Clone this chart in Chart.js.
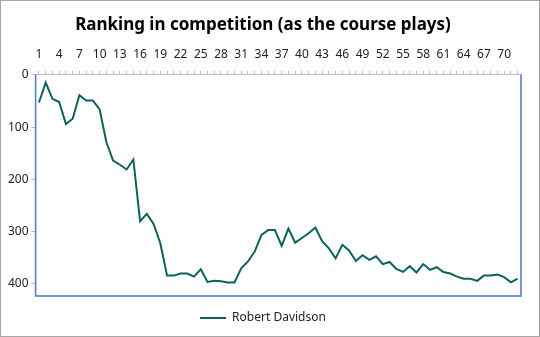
<!DOCTYPE html>
<html>
<head>
<meta charset="utf-8">
<script src="https://cdn.jsdelivr.net/npm/chart.js@4"></script>
<style>
  body { margin: 0; background: #fff; }
  #wrap { width: 540px; height: 337px; box-sizing: border-box; border: 1px solid #a6a6a6; }
</style>
</head>
<body>
<div id="wrap"><canvas id="chart_ranking" width="538" height="335"></canvas></div>
<script>
// holes as the course plays
var holes = [];
for (var i = 1; i <= 72; i++) holes.push(i);

// ranking after each hole
var ranking = [53, 15, 46, 52, 94, 84, 39, 49, 49, 66,
               129, 164, 172, 181, 162, 280, 266, 285, 322, 384,
               384, 380, 380, 386, 372, 396, 394, 395, 397, 397,
               370, 357, 338, 306, 297, 297, 327, 294, 321, 312,
               303, 292, 318, 332, 351, 325, 336, 356, 345, 354,
               347, 362, 358, 371, 377, 366, 378, 362, 373, 368,
               377, 380, 386, 390, 390, 394, 384, 384, 382, 387,
               397, 390];

var playerName = "Robert Davidson";
var rankTicks = [0, 100, 200, 300, 400];
var rankMax = 423;

var lineColor = "#0b6359";
var fontName = "'Noto Sans', 'Open Sans', sans-serif";

// blue frame round the plot (left, bottom, right)
var plotFrame = {
    id: "plotFrame",
    afterDatasetsDraw: function (chart) {
        var a = chart.chartArea;
        var c = chart.ctx;
        c.save();
        c.strokeStyle = "#4a76c9";
        c.lineWidth = 1.5;
        c.beginPath();
        c.moveTo(a.left, a.top);
        c.lineTo(a.left, a.bottom);
        c.lineTo(a.right, a.bottom);
        c.lineTo(a.right, a.top);
        c.stroke();
        c.restore();
    }
};

var ctx = document.getElementById("chart_ranking").getContext("2d");
var rankingChart = new Chart(ctx, {
    type: "line",
    data: {
        labels: holes,
        datasets: [{
            label: playerName,
            data: ranking,
            borderColor: lineColor,
            backgroundColor: lineColor,
            borderWidth: 2,
            pointRadius: 0,
            tension: 0,
            fill: false
        }]
    },
    options: {
        responsive: false,
        animation: false,
        devicePixelRatio: 1,
        layout: { padding: { left: 4, right: 18, top: 2, bottom: 2 } },
        plugins: {
            title: {
                display: true,
                text: "Ranking in competition (as the course plays)",
                color: "#000",
                font: { family: fontName, size: 17, weight: "bold" },
                padding: { top: 12, bottom: 3 }
            },
            legend: {
                position: "bottom",
                labels: {
                    color: "#222",
                    font: { family: fontName, size: 12 },
                    boxWidth: 26,
                    boxHeight: 0,
                    padding: 16
                }
            },
            tooltip: { enabled: false }
        },
        scales: {
            x: {
                position: "top",
                offset: true,
                grid: { drawOnChartArea: false, drawTicks: true, tickLength: 4, color: "#bfbfbf" },
                border: { color: "#bfbfbf" },
                ticks: {
                    autoSkip: false,
                    maxRotation: 0,
                    padding: 9,
                    color: "#222",
                    font: { family: fontName, size: 12 },
                    callback: function (v, idx) { return idx % 3 === 0 ? holes[idx] : ""; }
                }
            },
            y: {
                reverse: true,
                min: 0,
                max: rankMax,
                afterBuildTicks: function (s) { s.ticks = rankTicks.map(function (v) { return { value: v }; }); },
                grid: { drawOnChartArea: false, drawTicks: true, tickLength: 4, color: "#bfbfbf" },
                border: { display: false },
                ticks: {
                    padding: 3,
                    color: "#222",
                    font: { family: fontName, size: 12 }
                }
            }
        }
    },
    plugins: [plotFrame]
});
</script>
</body>
</html>
